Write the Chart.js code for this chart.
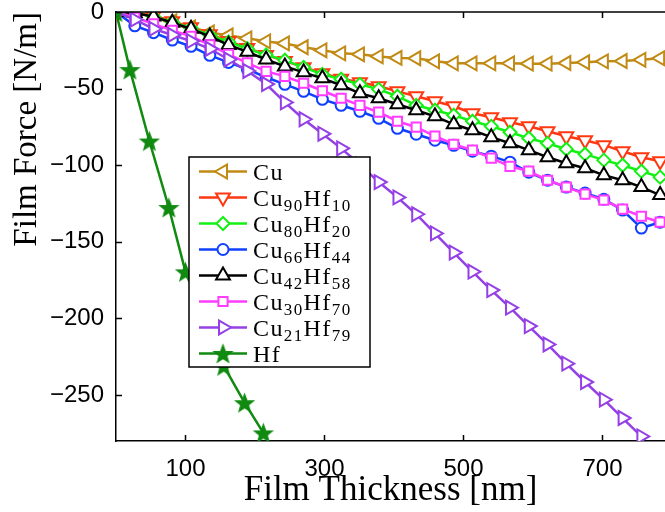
<!DOCTYPE html>
<html>
<head>
<meta charset="utf-8">
<script src="https://cdn.jsdelivr.net/npm/chart.js@4.4.1/dist/chart.umd.min.js"></script>
<style>
  html, body { margin: 0; padding: 0; background: #fff; }
  #wrap { width: 665px; height: 512px; }
</style>
</head>
<body>
<div id="wrap"><canvas id="forceChart" width="665" height="512"></canvas></div>
<script>
// film thickness (nm) for the alloy runs
const thickness = [0, 27, 54, 81, 108, 135, 162, 189, 216, 243, 270, 297, 324, 351, 378,
                   405, 432, 459, 486, 513, 540, 567, 594, 621, 648, 675, 702, 729, 756, 783];

// film force (N/m)
const forceCu = [0, -1.5, -2.2, -6.1, -10, -13.3, -15.3, -17.2, -19.2, -20.5, -23, -25, -27, -27.6, -29,
                 -30, -30.2, -32.2, -33.5, -33.5, -33.5, -33.5, -33.7, -33.7, -33.3, -32.8, -32.2, -32, -31.2, -30.2];
const forceCu90 = [0, -0.5, -2.5, -6, -10, -14.5, -19, -23.5, -28, -32, -36, -40, -43.5, -45.9, -48.5,
                   -51.8, -55, -58.3, -61.5, -66.1, -68.7, -72, -74.6, -77.8, -81.1, -83.7, -86.9, -90.9, -94.8, -97.4];
const forceCu80 = [0, -0.8, -3, -6.5, -10.5, -15, -19.5, -24, -28, -31.5, -36.1, -40.7, -43.9, -47.2, -50.5,
                   -55, -60.9, -64.1, -67.4, -71.3, -74.6, -78.5, -82.4, -85.7, -89.6, -92.8, -96.7, -100, -103.9, -107.8];
const forceCu66 = [0, -9, -13.5, -18.3, -22.4, -28.3, -32.9, -37.4, -42.6, -47.2, -51.8, -57, -60.9, -64.8, -69.4,
                   -75.9, -79.8, -83.7, -87, -90.9, -94.1, -98, -104.6, -109.8, -114.3, -118.2, -122.2, -129.3, -141, -137.2];
const forceCu42 = [0, -0.6, -3, -7, -11, -16, -21.5, -26, -31, -35.5, -39.4, -43.3, -47.8, -53.1, -56.3,
                   -60.2, -64.1, -68.1, -73.3, -77.2, -81.7, -85.7, -90.2, -94.8, -98.7, -102, -106.5, -109.8, -114.3, -119.5];
const forceCu30 = [0, -3.5, -7.8, -12, -15.9, -21.4, -27.6, -33.2, -38.7, -42, -46.5, -51.4, -56.3, -60.9, -65.4,
                   -71.3, -75.2, -81, -86.3, -90.2, -95.4, -100.7, -103.9, -109.8, -114.3, -118.9, -122.8, -128.7, -133.3, -137.2];
const forceCu21 = [0, -5, -11, -15, -19, -24, -31, -38.5, -47, -59, -70, -79.5, -89, -99.5, -111,
                   -121, -132, -144.5, -157, -169.5, -181.5, -193, -205, -217, -229.5, -241.5, -253, -265, -277];

// pure Hf run has its own thickness steps
const hfThickness = [0, 20, 48, 76, 100, 127, 155, 185, 212];
const hfForce = [0, -37.6, -84.2, -127.6, -169.6, -200, -231, -255, -274.7];

const seriesLabels = ['Cu', 'Cu90Hf10', 'Cu80Hf20', 'Cu66Hf44', 'Cu42Hf58', 'Cu30Hf70', 'Cu21Hf79', 'Hf'];
const xTicks = [100, 300, 500, 700];
const yTicks = [-250, -200, -150, -100, -50, 0];

function makeStar(r, color) {
    const c = document.createElement('canvas');
    const s = Math.ceil(r * 2 + 4);
    c.width = c.height = s;
    const g = c.getContext('2d');
    g.translate(s / 2, s / 2 + 1);
    g.beginPath();
    for (let i = 0; i < 10; i++) {
        const rr = i % 2 ? r * 0.42 : r;
        const a = -Math.PI / 2 + i * Math.PI / 5;
        g.lineTo(rr * Math.cos(a), rr * Math.sin(a));
    }
    g.closePath();
    g.fillStyle = color;
    g.fill();
    g.lineWidth = 1.2;
    g.strokeStyle = color;
    g.stroke();
    return c;
}

// look of each series (same order as seriesLabels)
const seriesStyles = [
    { color: '#c08a14', pointStyle: 'triangle', rotation: 270, radius: 8 },
    { color: '#ff3812', pointStyle: 'triangle', rotation: 180, radius: 8 },
    { color: '#14f014', pointStyle: 'rectRot', rotation: 0, radius: 6.5 },
    { color: '#1040ff', pointStyle: 'circle', rotation: 0, radius: 5.5 },
    { color: '#000000', pointStyle: 'triangle', rotation: 0, radius: 8 },
    { color: '#ff3cff', pointStyle: 'rect', rotation: 0, radius: 6.5 },
    { color: '#9440e6', pointStyle: 'triangle', rotation: 90, radius: 8 },
    { color: '#108a10', pointStyle: makeStar(9.5, '#108a10'), rotation: 0, radius: 9 }
];

function pairs(xs, ys) {
    return ys.map((v, i) => ({ x: xs[i], y: v }));
}

const seriesData = [
    pairs(thickness, forceCu),
    pairs(thickness, forceCu90),
    pairs(thickness, forceCu80),
    pairs(thickness, forceCu66),
    pairs(thickness, forceCu42),
    pairs(thickness, forceCu30),
    pairs(thickness, forceCu21),
    pairs(hfThickness, hfForce)
];

const datasets = seriesData.map((d, i) => {
    const st = seriesStyles[i];
    return {
        label: seriesLabels[i],
        data: d,
        borderColor: st.color,
        backgroundColor: st.color,
        borderWidth: 2.5,
        pointStyle: st.pointStyle,
        pointRotation: st.rotation,
        pointRadius: st.radius,
        pointBorderWidth: 2,
        pointBorderColor: st.color,
        pointBackgroundColor: '#ffffff',
        tension: 0,
        order: seriesData.length - i // later series drawn on top, as in the original
    };
});

// inward tick marks and top frame line
const frameTicks = {
    id: 'frameTicks',
    afterDatasetsDraw(chart) {
        const { ctx, chartArea: a, scales: { x, y } } = chart;
        ctx.save();
        ctx.strokeStyle = '#000';
        ctx.lineWidth = 1.5;
        ctx.beginPath();
        ctx.moveTo(a.left, a.top);
        ctx.lineTo(a.right, a.top);
        xTicks.forEach(v => {
            const px = Math.round(x.getPixelForValue(v)) + 0.5;
            ctx.moveTo(px, a.bottom);
            ctx.lineTo(px, a.bottom - 6);
            ctx.moveTo(px, a.top);
            ctx.lineTo(px, a.top + 6);
        });
        yTicks.forEach(v => {
            const py = Math.round(y.getPixelForValue(v)) + 0.5;
            ctx.moveTo(a.left, py);
            ctx.lineTo(a.left + 6, py);
        });
        ctx.stroke();
        ctx.restore();
    }
};

// legend with subscripted compositions
const subLegend = {
    id: 'subLegend',
    afterDatasetsDraw(chart) {
        const ctx = chart.ctx;
        const box = { left: 189, top: 157, right: 370, bottom: 367 };
        ctx.save();
        ctx.fillStyle = '#fff';
        ctx.fillRect(box.left, box.top, box.right - box.left, box.bottom - box.top);
        ctx.strokeStyle = '#000';
        ctx.lineWidth = 1.5;
        ctx.strokeRect(box.left, box.top, box.right - box.left, box.bottom - box.top);

        seriesLabels.forEach((lab, i) => {
            const st = seriesStyles[i];
            const cy = 171.5 + 26 * i;
            ctx.strokeStyle = st.color;
            ctx.lineWidth = 2.5;
            ctx.beginPath();
            ctx.moveTo(199, cy);
            ctx.lineTo(247, cy);
            ctx.stroke();
            ctx.fillStyle = '#fff';
            ctx.lineWidth = 2;
            Chart.helpers.drawPoint(ctx, {
                pointStyle: st.pointStyle,
                rotation: st.rotation,
                radius: st.radius,
                borderWidth: 2
            }, 223, cy);

            // split "Cu90Hf10" into text and subscript runs
            const parts = lab.split(/(\d+)/);
            let tx = 253;
            ctx.fillStyle = '#000';
            ctx.textBaseline = 'alphabetic';
            ctx.textAlign = 'left';
            ctx.letterSpacing = '1.4px';
            parts.forEach((p, k) => {
                if (!p) return;
                const isSub = k % 2 === 1;
                ctx.font = isSub ? '17px "Liberation Serif"' : '24px "Liberation Serif"';
                ctx.fillText(p, tx, cy + 8 + (isSub ? 5 : 0));
                tx += ctx.measureText(p).width;
            });
        });
        ctx.restore();
    }
};

new Chart(document.getElementById('forceChart').getContext('2d'), {
    type: 'line',
    data: { datasets: datasets },
    options: {
        responsive: false,
        animation: false,
        devicePixelRatio: 1,
        layout: { autoPadding: false, padding: { top: 12, right: 0, bottom: 0, left: 0 } },
        plugins: {
            legend: { display: false },
            tooltip: { enabled: false }
        },
        scales: {
            x: {
                type: 'linear',
                min: 0,
                max: 790,
                grid: { display: false, drawTicks: false },
                border: { display: true, color: '#000', width: 1.5 },
                afterBuildTicks: s => { s.ticks = xTicks.map(v => ({ value: v })); },
                afterFit: s => { s.height = 71; s.paddingLeft = 0; s.paddingRight = 0; },
                ticks: {
                    autoSkip: false,
                    maxRotation: 0,
                    padding: 14,
                    color: '#000',
                    font: { family: '"Liberation Sans", Arial, sans-serif', size: 24 }
                },
                title: {
                    display: true,
                    text: 'Film Thickness [nm]',
                    color: '#000',
                    padding: { top: 0, bottom: 0 },
                    font: { family: '"Liberation Serif", serif', size: 35 }
                }
            },
            y: {
                type: 'linear',
                min: -280,
                max: 0,
                grid: { display: false, drawTicks: false },
                border: { display: true, color: '#000', width: 1.5 },
                afterBuildTicks: s => { s.ticks = yTicks.map(v => ({ value: v })); },
                afterFit: s => { s.width = 116; s.paddingTop = 0; s.paddingBottom = 0; },
                ticks: {
                    padding: 12,
                    color: '#000',
                    font: { family: '"Liberation Sans", Arial, sans-serif', size: 24 },
                    callback: v => (v < 0 ? '\u2212' + Math.abs(v) : String(v))
                },
                title: {
                    display: true,
                    text: 'Film Force [N/m]',
                    align: 'end',
                    color: '#000',
                    padding: { top: 8, bottom: 0 },
                    font: { family: '"Liberation Serif", serif', size: 33 }
                }
            }
        }
    },
    plugins: [frameTicks, subLegend]
});
</script>
</body>
</html>
